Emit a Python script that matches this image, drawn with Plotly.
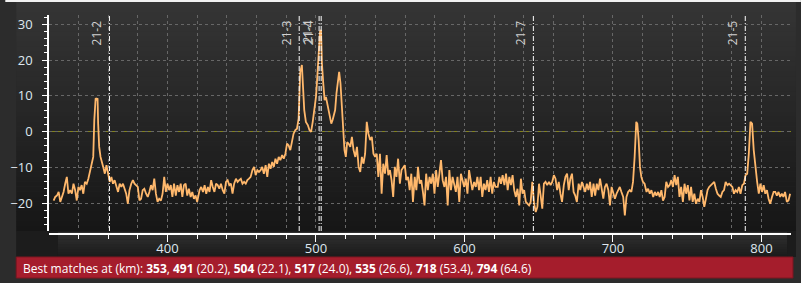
import plotly.graph_objects as go

# ---------------- data ----------------
km_1 = [323.3,324.4,325.6,326.7,327.8,328.9,330.0,331.1,332.2,333.3,334.4,335.6,336.7,337.8,338.9,340.0,341.1,342.2,343.3,344.4,345.6,346.7,347.8,348.9,350.0,350.7,351.6,352.4,352.9,353.3,354.0,354.9,355.6,356.7,357.8,358.9,360.0,361.1,362.2,363.3,364.4,365.6,366.7,367.8,368.9,370.0,371.1,372.2,373.3,374.4,375.6,376.7,377.8,378.9,380.0,381.1,382.2,383.3,384.4,385.6,386.7,387.8,388.9,390.0,391.1,392.2,393.3,394.4,395.6,396.7,397.8,398.9,400.0,401.1,402.2,403.3,404.4,405.6,406.7,407.8,408.9,410.0,411.1,412.2,413.3,414.4,415.6,416.7,417.8,418.9,420.0]
val_1 = [-19.3,-18.3,-17.9,-16.9,-19.7,-18.3,-16.9,-14.6,-12.7,-17.4,-16.4,-17.4,-14.6,-16.4,-19.3,-15.5,-16.4,-15.0,-17.4,-14.1,-14.6,-13.2,-10.8,-8.5,-7.1,3.2,9.3,9.0,9.3,2.2,-4.3,-7.1,-8.0,-9.9,-11.8,-9.4,-11.8,-14.1,-12.7,-14.6,-13.6,-15.0,-16.9,-14.6,-15.5,-14.6,-16.4,-17.4,-20.2,-16.4,-14.6,-13.6,-14.6,-15.0,-15.5,-19.3,-18.8,-16.4,-16.0,-17.4,-18.3,-16.9,-15.0,-16.4,-13.2,-17.4,-19.7,-18.8,-19.3,-17.4,-12.7,-16.9,-14.6,-16.4,-15.0,-18.3,-14.6,-17.9,-15.0,-16.9,-14.6,-18.3,-15.0,-14.6,-17.9,-16.0,-18.3,-16.9,-18.8,-17.9,-19.7]

km_2 = [421.6,422.7,423.9,425.0,426.1,427.2,428.3,429.4,430.5,431.6,432.7,433.8,434.9,436.0,437.2,438.3,439.4,440.5,441.6,442.7,443.8,444.9,446.1,447.2,448.3,449.4,450.5,451.6,452.7,453.8,454.9,456.0,457.2,458.3,459.4,460.5,461.6,462.7,463.8,464.9,466.1,467.2,468.3,469.4,470.5,471.6,472.7,473.8,474.9,476.0,477.2,478.3,479.4,480.5,481.6,482.7,483.8,484.9,486.1,487.2,488.3,489.4,490.5,491.2,492.1,493.2,494.5,495.6,496.7,497.8,498.9,500.0,500.9,501.8,502.7,503.4,504.0,504.9,505.8,506.7,507.6,508.5,509.4,510.3,511.2,512.0,512.9,513.8,514.7,515.6,516.5,517.4,518.3,519.2,520.1,521.0]
val_2 = [-16.4,-15.5,-16.9,-15.0,-17.4,-15.5,-16.9,-13.6,-15.5,-16.9,-14.6,-15.0,-16.0,-14.6,-16.4,-17.4,-14.1,-13.6,-15.0,-14.6,-17.4,-14.6,-13.2,-14.1,-13.6,-13.2,-14.6,-14.1,-14.6,-13.6,-13.2,-12.7,-10.8,-9.9,-12.2,-10.8,-11.3,-10.8,-9.9,-11.8,-9.4,-12.7,-9.0,-10.4,-8.5,-9.9,-7.6,-9.0,-7.1,-8.0,-6.6,-7.6,-6.2,-3.4,-3.9,-5.2,-2.9,-0.6,0.4,0.8,3.6,16.7,18.6,10.7,6.0,2.7,1.8,0.4,-0.1,2.7,6.0,9.7,15.3,21.9,27.9,28.4,19.1,13.5,8.8,9.7,7.9,6.0,5.0,2.2,3.2,4.6,6.0,10.7,13.5,16.7,13.5,6.0,-0.6,-5.2,-7.1,-3.0]

km_3 = [522.0,523.1,524.2,525.3,526.5,527.6,528.7,529.8,530.9,532.0,533.1,534.2,535.3,536.5,537.6,538.7,539.8,540.9,542.0,543.1,544.2,545.3,546.5,547.6,548.7,549.8,550.9,552.0,553.1,554.2,555.3,556.5,557.6,558.7,559.8,560.9,562.0,563.1,564.2,565.3,566.5,567.6,568.7,569.8,570.9,572.0,573.1,574.2,575.3,576.5,577.6,578.7,579.8,580.9,582.0,583.1,584.2,585.3,586.5,587.6,588.7,589.8,590.9,592.0,593.1,594.2,595.3,596.5,597.6,598.7,599.8,600.9,602.0,603.1,604.2,605.3,606.5,607.6,608.7,609.8,610.9,612.0,613.1,614.2,615.3,616.5,617.6,618.7,619.8,620.9]
val_3 = [-3.4,-4.3,-1.5,-5.2,-7.1,-4.3,-9.9,-11.3,-7.1,-9.0,-6.2,2.7,-0.6,-2.4,-1.5,-6.2,-7.1,-6.2,-12.7,-6.2,-17.4,-9.0,-11.8,-6.6,-12.2,-10.8,-13.6,-18.3,-9.9,-12.7,-7.6,-14.6,-10.8,-9.9,-9.4,-13.6,-12.7,-16.4,-11.8,-19.7,-12.7,-16.4,-9.9,-14.6,-13.6,-16.9,-20.7,-11.8,-16.4,-12.7,-14.6,-11.8,-17.4,-10.8,-15.5,-11.8,-8.0,-13.6,-15.5,-12.7,-20.7,-10.8,-16.4,-12.7,-14.6,-16.9,-12.7,-19.7,-11.8,-13.6,-15.5,-13.2,-17.4,-10.8,-13.6,-16.4,-14.1,-15.5,-12.7,-16.4,-12.7,-18.3,-14.6,-16.4,-13.6,-16.9,-12.7,-17.4,-14.1,-15.5]

km_4 = [622.4,623.5,624.6,625.7,626.9,628.0,629.1,630.2,631.3,632.4,633.5,634.6,635.7,636.9,638.0,639.1,640.2,641.3,642.4,643.5,644.6,645.7,646.9,648.0,649.1,650.2,651.3,652.4,653.5,654.6,655.7,656.9,658.0,659.1,660.2,661.3,662.4,663.5,664.6,665.7,666.9,668.0,669.1,670.2,671.3,672.4,673.5,674.6,675.7,676.9,678.0,679.1,680.2,681.3,682.4,683.5,684.6,685.7,686.9,688.0,689.1,690.2,691.3,692.4,693.5,694.6,695.7,696.9,698.0,699.1,700.2,701.3,702.4,703.5,704.6,705.7,706.9,708.0,709.1,710.2,711.3,712.4,713.5,714.6,715.7,716.4,717.3,718.2,719.1,720.2,721.3]
val_4 = [-15.5,-12.7,-14.6,-12.2,-15.0,-11.8,-16.4,-12.7,-15.0,-12.2,-16.4,-18.3,-16.0,-20.7,-13.2,-17.4,-16.4,-19.7,-20.2,-20.7,-19.7,-14.1,-20.2,-22.5,-21.1,-14.6,-17.9,-21.6,-14.6,-14.1,-15.0,-14.1,-15.0,-14.1,-12.2,-13.2,-16.4,-14.1,-17.4,-19.7,-15.0,-12.7,-11.8,-16.4,-13.2,-11.8,-16.9,-17.9,-19.7,-14.6,-16.4,-14.1,-15.5,-16.9,-14.6,-16.4,-14.1,-18.3,-14.6,-17.9,-14.6,-16.4,-13.2,-16.0,-18.8,-15.5,-14.6,-16.4,-20.7,-15.5,-17.4,-18.8,-17.4,-16.4,-15.5,-16.9,-18.3,-23.5,-18.3,-16.9,-16.4,-16.9,-14.1,-7.1,2.7,2.2,-2.4,-9.9,-12.7,-14.1,-14.6]

km_5 = [722.6,723.7,724.8,725.9,727.1,728.2,729.3,730.4,731.5,732.6,733.7,734.8,735.9,737.1,738.2,739.3,740.4,741.5,742.6,743.7,744.8,745.9,747.1,748.2,749.3,750.4,751.5,752.6,753.7,754.8,755.9,757.1,758.2,759.3,760.4,761.5,762.6,763.7,764.8,765.9,767.1,768.2,769.3,770.4,771.5,772.6,773.7,774.8,775.9,777.1,778.2,779.3,780.4,781.5,782.6,783.7,784.8,785.9,787.1,788.2,789.3,790.4,791.5,792.6,793.7,794.8,795.9,797.1,798.2,799.3,800.4,801.5,802.6,803.7,804.8,805.9,807.1,808.2,809.3,810.4,811.5,812.6,813.7,814.8,815.9,817.1,818.2,819.3]
val_5 = [-16.9,-16.0,-17.4,-16.4,-18.3,-16.9,-17.9,-16.9,-18.3,-16.4,-19.3,-18.3,-14.1,-15.5,-15.0,-13.6,-15.5,-12.2,-15.0,-12.7,-18.3,-15.5,-19.7,-14.6,-17.4,-15.0,-19.3,-15.5,-19.7,-17.4,-20.2,-18.8,-19.7,-16.4,-18.3,-21.1,-18.8,-16.4,-15.5,-15.0,-14.6,-14.1,-16.0,-17.4,-17.9,-18.3,-16.9,-16.4,-14.1,-15.0,-14.6,-15.0,-15.5,-17.4,-16.4,-16.9,-15.5,-17.4,-15.0,-14.6,-12.2,-11.8,-6.2,2.7,2.2,-5.2,-9.9,-14.1,-17.4,-14.6,-16.9,-15.0,-17.4,-16.4,-18.8,-20.2,-18.3,-16.9,-16.9,-17.9,-16.9,-18.3,-17.4,-18.3,-16.9,-19.7,-19.3,-17.4]

marker_labels = ["21-2", "21-3", "21-1", "21-4", "21-7", "21-5"]
marker_km = [360.9, 488.7, 502.1, 503.5, 646.4, 789.1]

match_km = [353, 491, 504, 517, 535, 718, 794]
match_score = [None, 20.2, 22.1, 24.0, 26.6, 53.4, 64.6]

x_tickvals = [400, 500, 600, 700, 800]
y_tickvals = [-20, -10, 0, 10, 20, 30]

km = km_1 + km_2 + km_3 + km_4 + km_5
val = val_1 + val_2 + val_3 + val_4 + val_5

# ---------------- layout geometry (pixels) ----------------
W, H = 801, 283
L, R, T, B = 44, 791, 15, 234
PW, PH = R - L, B - T
PLOT_BOTTOM = 231


def xp(px):
    return (px - L) / PW


def yp(py):
    return (B - py) / PH


shapes = []


def rect(x0, y0, x1, y1, color, line=None):
    shapes.append(dict(type="rect", xref="paper", yref="paper",
                       x0=xp(x0), x1=xp(x1), y0=yp(y1), y1=yp(y0),
                       fillcolor=color, layer="below",
                       line=dict(width=1 if line else 0, color=line or color)))


def grad(x0, y0, x1, y1, c0, c1, n):
    for i in range(n):
        ya = y0 + (y1 - y0) * i / n
        yb = y0 + (y1 - y0) * (i + 1) / n
        t = (i + 0.5) / n
        c = tuple(round(c0[k] + (c1[k] - c0[k]) * t) for k in range(3))
        rect(x0, ya, x1, yb + 0.3, "rgb(%d,%d,%d)" % c)


rect(0, 0, W, 2, "#f2f2f2")
grad(11, 2, 796, PLOT_BOTTOM, (53, 53, 53), (22, 22, 22), 46)
rect(11, PLOT_BOTTOM, 796, 257, "#1c1c1c")
grad(53, 232, 787, 257, (48, 48, 48), (27, 27, 27), 10)
rect(11, 257, 793, 278, "#a51d2c", line="#7e1621")

# zero reference line
shapes.append(dict(type="line", xref="paper", yref="y", x0=0, x1=1, y0=0, y1=0,
                   line=dict(color="#84841f", width=1, dash="6px,3px"), layer="between"))

annotations = []
for lab, k in zip(marker_labels, marker_km):
    shapes.append(dict(type="line", xref="x", yref="paper", x0=k, x1=k,
                       y0=yp(PLOT_BOTTOM), y1=1,
                       line=dict(color="white", width=1, dash="5px,2px,1px,2px"),
                       layer="above"))
    annotations.append(dict(x=k, xref="x", y=1, yref="paper", text=lab,
                            showarrow=False, textangle=-90, xanchor="right",
                            yanchor="top", xshift=-2, yshift=-3,
                            font=dict(family="Open Sans", size=12, color="#d2d2d2")))

parts = []
for k, s in zip(match_km, match_score):
    parts.append("<b>%d</b>" % k if s is None else "<b>%d</b> (%.1f)" % (k, s))
summary = "Best matches at (km): " + ", ".join(parts)
annotations.append(dict(x=xp(16), xref="paper", y=yp(268), yref="paper",
                        text=summary, showarrow=False, xanchor="left",
                        yanchor="middle",
                        font=dict(family="Open Sans", size=12, color="white")))

fig = go.Figure()
fig.add_trace(go.Scatter(x=km, y=val, mode="lines",
                         line=dict(color="#ffb86c", width=1.8),
                         hoverinfo="skip", showlegend=False))

grid_col = "#676767"
tick_font = dict(family="Open Sans", size=13, color="#dfe7ef")

fig.update_layout(
    width=W, height=H, autosize=False,
    margin=dict(l=L, r=W - R, t=T, b=H - B, pad=0),
    paper_bgcolor="#2c2c2c", plot_bgcolor="rgba(0,0,0,0)",
    shapes=shapes, annotations=annotations, showlegend=False,
    xaxis=dict(range=[320.2, 819.9], anchor="free", position=0,
               showline=True, linecolor="white", linewidth=1.5,
               ticks="outside", ticklen=7, tickwidth=1, tickcolor="white",
               tickvals=x_tickvals, tickfont=tick_font, ticklabelstandoff=-4,
               showgrid=True, gridcolor=grid_col, griddash="dot", gridwidth=1,
               minor=dict(dtick=20, tick0=0, ticks="outside", ticklen=4,
                          tickcolor="white", showgrid=True, gridcolor=grid_col,
                          griddash="dot", gridwidth=1),
               zeroline=False, fixedrange=True),
    yaxis=dict(domain=[yp(PLOT_BOTTOM), 1], range=[-27.83, 32.6],
               showline=True, linecolor="white", linewidth=1.5,
               ticks="outside", ticklen=5, tickwidth=1, tickcolor="white",
               tickvals=y_tickvals, tickfont=tick_font, ticklabelstandoff=7,
               showgrid=True, gridcolor=grid_col, griddash="dot", gridwidth=1,
               minor=dict(dtick=2, tick0=0, ticks="outside", ticklen=3,
                          tickcolor="white", showgrid=False),
               zeroline=False, fixedrange=True),
)

fig.write_html("out.html")
